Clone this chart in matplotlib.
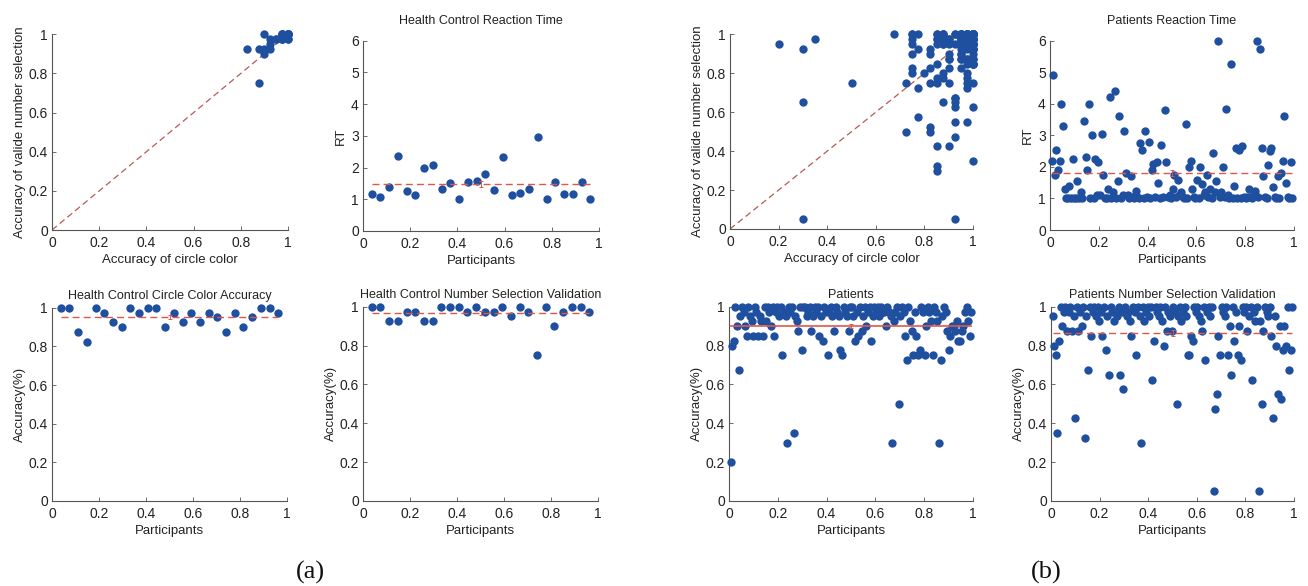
import numpy as np
import matplotlib
matplotlib.use("Agg")
import matplotlib.pyplot as plt

# ---------------- data ----------------
acc_ticks = [0, 0.2, 0.4, 0.6, 0.8, 1.0]
acc_ticklabels = ["0", "0.2", "0.4", "0.6", "0.8", "1"]
rt_ticks = [0, 1, 2, 3, 4, 5, 6]
rt_ticklabels = ["0", "1", "2", "3", "4", "5", "6"]

# Health control group (26 participants)
hc_rt = [1.16, 1.06, 1.39, 2.36, 1.26, 1.15, 1.99, 2.09, 1.32, 1.51, 1.00, 1.53, 1.58,
         1.80, 1.28, 2.32, 1.15, 1.21, 1.33, 2.97, 1.00, 1.55, 1.16, 1.16, 1.55, 1.00]
hc_circle = [1.0, 1.0, 0.875, 0.825, 1.0, 0.975, 0.925, 0.9, 1.0, 0.975, 1.0, 1.0, 0.9,
             0.975, 0.925, 0.975, 0.925, 0.975, 0.95, 0.875, 0.975, 0.9, 0.95, 1.0, 1.0, 0.975]
hc_number = [1.0, 1.0, 0.925, 0.925, 0.975, 0.975, 0.925, 0.925, 1.0, 1.0, 1.0, 0.975, 1.0,
             0.975, 0.975, 1.0, 0.95, 1.0, 0.975, 0.75, 1.0, 0.9, 0.975, 1.0, 1.0, 0.975]

# Patients group
pt_rt = [2.2, 4.9, 1.75, 2.55, 1.9, 2.2, 4.0, 3.3, 1.3, 1.0, 1.0, 1.4, 1.0, 2.25, 1.0,
         1.0, 1.55, 1.0, 1.2, 1.0, 3.45, 2.3, 1.9, 4.0, 1.0, 3.0, 1.0, 2.25, 1.1, 2.15,
         1.1, 3.05, 1.75, 1.0, 1.0, 1.3, 4.2, 1.0, 1.2, 4.4, 1.0, 1.55, 3.6, 1.0, 1.1,
         3.15, 1.8, 1.1, 1.0, 1.7, 1.05, 1.0, 1.25, 1.05, 1.0, 2.75, 2.55, 1.0, 3.15, 1.05,
         2.8, 1.0, 1.9, 2.1, 1.05, 2.15, 1.5, 1.0, 2.7, 1.05, 3.8, 2.15, 1.05, 1.1, 1.0,
         1.3, 1.75, 1.05, 1.6, 1.1, 1.2, 1.05, 1.0, 3.35, 1.0, 2.0, 2.2, 1.3, 1.05, 1.0,
         1.6, 1.0, 2.0, 1.45, 1.1, 1.2, 1.75, 1.05, 1.3, 1.0, 2.45, 1.2, 1.55, 6.0, 1.05,
         1.2, 2.0, 1.05, 3.85, 1.1, 1.0, 5.25, 1.0, 1.4, 2.6, 1.0, 2.55, 1.0, 2.65, 1.05,
         1.0, 1.05, 1.3, 1.05, 1.0, 1.1, 1.25, 6.0, 1.05, 5.75, 2.6, 1.7, 1.05, 1.0, 2.05,
         2.5, 2.6, 1.35, 1.05, 1.0, 1.7, 1.0, 1.8, 2.2, 3.6, 1.5, 1.05, 1.0, 2.15, 1.0]
pt_circle = [0.2, 0.8, 0.825, 1.0, 0.9, 0.675, 0.95, 1.0, 0.975, 0.9, 0.85, 1.0, 0.95, 0.925, 0.85,
             1.0, 0.975, 0.85, 0.95, 0.925, 0.85, 1.0, 0.925, 1.0, 0.975, 0.9, 1.0, 0.85, 0.975, 1.0,
             0.95, 1.0, 0.75, 0.975, 0.95, 0.3, 1.0, 0.975, 1.0, 0.35, 0.95, 0.925, 0.875, 1.0, 0.775,
             1.0, 1.0, 0.95, 0.975, 1.0, 0.875, 0.95, 1.0, 0.975, 1.0, 0.85, 0.95, 0.825, 1.0, 0.975,
             0.75, 0.975, 1.0, 0.95, 0.875, 1.0, 0.975, 0.95, 0.775, 0.75, 1.0, 0.975, 0.95, 0.875, 1.0,
             1.0, 0.95, 0.825, 0.975, 0.85, 1.0, 0.875, 0.95, 1.0, 0.9, 0.975, 1.0, 0.825, 0.95, 1.0,
             0.975, 1.0, 0.95, 1.0, 0.975, 0.975, 0.9, 1.0, 0.975, 0.95, 0.3, 0.925, 0.975, 1.0, 0.5,
             0.95, 1.0, 0.975, 0.85, 0.725, 1.0, 0.925, 0.875, 0.75, 0.975, 0.85, 0.75, 0.775, 1.0, 0.975,
             0.75, 0.9, 1.0, 0.975, 0.925, 0.75, 1.0, 0.975, 0.925, 0.3, 0.725, 0.95, 1.0, 0.975, 0.875,
             0.775, 0.85, 0.9, 0.9, 0.875, 0.925, 0.825, 0.825, 0.875, 0.9, 0.975, 1.0, 0.925, 0.85, 0.975]
pt_number = [0.95, 0.8, 0.75, 0.35, 0.825, 1.0, 0.9, 0.975, 1.0, 0.875, 0.975, 1.0, 0.875, 0.95, 0.425,
             1.0, 0.875, 0.975, 0.9, 1.0, 0.325, 0.95, 0.675, 1.0, 0.85, 0.975, 1.0, 0.95, 1.0, 0.925,
             0.975, 0.85, 1.0, 0.775, 0.95, 0.65, 1.0, 0.975, 0.925, 0.975, 0.95, 1.0, 0.65, 0.975, 0.575,
             1.0, 0.95, 0.975, 0.925, 0.85, 1.0, 0.975, 0.75, 1.0, 0.95, 0.3, 1.0, 0.925, 0.975, 1.0,
             0.95, 1.0, 0.625, 0.825, 1.0, 0.975, 0.95, 1.0, 0.925, 0.8, 1.0, 0.875, 0.975, 0.95, 0.875,
             1.0, 0.975, 0.5, 0.95, 1.0, 0.925, 0.975, 1.0, 0.95, 0.75, 0.75, 0.85, 0.825, 1.0, 0.975,
             1.0, 0.95, 0.925, 0.875, 1.0, 0.725, 0.975, 1.0, 0.95, 1.0, 0.05, 0.475, 0.55, 0.85, 0.75,
             1.0, 0.975, 0.95, 1.0, 0.75, 0.9, 0.65, 1.0, 0.825, 0.975, 0.75, 0.9, 0.725, 1.0, 0.975,
             1.0, 0.875, 0.95, 1.0, 0.625, 0.975, 0.925, 1.0, 0.05, 0.925, 0.5, 0.875, 1.0, 0.975, 0.95,
             1.0, 0.85, 0.425, 0.95, 0.8, 0.55, 0.9, 0.525, 0.775, 0.9, 0.8, 1.0, 0.675, 0.775, 1.0]

titles = {
    "hc_rt": "Health Control Reaction Time",
    "hc_circle": "Health Control Circle Color Accuracy",
    "hc_number": "Health Control Number Selection Validation",
    "pt_rt": "Patients Reaction Time",
    "pt_circle": "Patients",
    "pt_number": "Patients Number Selection Validation",
}

# ---------------- style ----------------
W, H = 1308, 586
DOT = "#1f4f9f"
MEANC = "#e0574a"
DIAGC = "#b85a55"
TXT = "#222222"
SPINE = "#555555"
plt.rcParams["font.family"] = ["Liberation Sans", "DejaVu Sans"]

fig = plt.figure(figsize=(W / 100, H / 100), dpi=100)


def pos(x0, x1, ytop, ybot):
    return [x0 / W, 1 - ybot / H, (x1 - x0) / W, (ybot - ytop) / H]


def style(ax, ylim, yticks, ylabels):
    ax.set_xlim(0, 1)
    ax.set_ylim(*ylim)
    ax.set_xticks(acc_ticks)
    ax.set_xticklabels(acc_ticklabels)
    ax.set_yticks(yticks)
    ax.set_yticklabels(ylabels)
    for s in ("top", "right"):
        ax.spines[s].set_visible(False)
    for s in ("left", "bottom"):
        ax.spines[s].set_color(SPINE)
        ax.spines[s].set_linewidth(0.8)
    ax.tick_params(direction="in", length=3, width=0.6, colors=SPINE,
                   labelcolor=TXT, labelsize=10)
    ax.tick_params(axis="x", pad=4)
    ax.tick_params(axis="y", pad=3)
    ax.patch.set_alpha(0)


def dots(ax, x, y):
    ax.plot(x, y, "o", color=DOT, ms=6.0, mec="none", clip_on=False, zorder=3)


def mean_line(ax, x, y, ls="--"):
    m = float(np.mean(y))
    sem = float(np.std(y) / np.sqrt(len(y)))
    if ls == "--":
        ax.plot([x[0], x[-1]], [m, m], "--", color=MEANC, lw=1.0, zorder=4, dashes=(5, 3))
    else:
        ax.plot([x[0], x[-1]], [m, m], "-", color=MEANC, lw=1.2, zorder=4)
    ax.errorbar([0.5], [m], yerr=[sem], color=MEANC, lw=0.7, capsize=1.5,
                capthick=0.7, zorder=4)


def scatter_panel(rect, cx, ny):
    ax = fig.add_axes(pos(*rect))
    ax.plot([0, 1], [0, 1], "--", color=DIAGC, lw=0.9, dashes=(5, 3), zorder=2)
    dots(ax, cx, ny)
    style(ax, (0, 1), acc_ticks, acc_ticklabels)
    ax.set_xlabel("Accuracy of circle color", fontsize=9.5, color=TXT, labelpad=3)
    ax.set_ylabel("Accuracy of valide number selection", fontsize=9.5, color=TXT, labelpad=2)
    return ax


def series_panel(rect, x, y, title, kind, ls="--", tpad=6):
    ax = fig.add_axes(pos(*rect))
    dots(ax, x, y)
    mean_line(ax, x, y, ls)
    if kind == "rt":
        style(ax, (0, 6), rt_ticks, rt_ticklabels)
        ax.set_ylabel("RT", fontsize=9.5, color=TXT, labelpad=3)
    else:
        style(ax, (0, 1), acc_ticks, acc_ticklabels)
        ax.set_ylabel("Accuracy(%)", fontsize=9.5, color=TXT, labelpad=2)
    ax.set_xlabel("Participants", fontsize=9.5, color=TXT, labelpad=3)
    ax.set_title(title, fontsize=9, color=TXT, pad=tpad)
    return ax


n_hc = len(hc_rt)
x_hc = np.arange(1, n_hc + 1) / (n_hc + 1)
n_pt = len(pt_rt)
x_pt = np.arange(1, n_pt + 1) / (n_pt + 1)

# (a) health controls
scatter_panel((52, 288, 34.3, 230), hc_circle, hc_number)
series_panel((363, 599, 40.7, 231), x_hc, hc_rt, titles["hc_rt"], "rt", tpad=12)
series_panel((52, 287, 307.7, 501), x_hc, hc_circle, titles["hc_circle"], "acc")
series_panel((363, 598, 306.7, 501), x_hc, hc_number, titles["hc_number"], "acc")

# (b) patients
scatter_panel((730, 973, 34.3, 229), pt_circle, pt_number)
series_panel((1050, 1294, 40.7, 230), x_pt, pt_rt, titles["pt_rt"], "rt", tpad=12)
series_panel((729, 973, 306.7, 501), x_pt, pt_circle, titles["pt_circle"], "acc", ls="-")
series_panel((1051, 1294, 306.7, 501), x_pt, pt_number, titles["pt_number"], "acc")

fig.text(310 / W, 1 - 572 / H, "(a)", fontsize=19, family="Liberation Serif",
         ha="center", va="center", color="#111111")
fig.text(1046 / W, 1 - 572 / H, "(b)", fontsize=19, family="Liberation Serif",
         ha="center", va="center", color="#111111")

fig.savefig("out.png", dpi=100, facecolor="white")
